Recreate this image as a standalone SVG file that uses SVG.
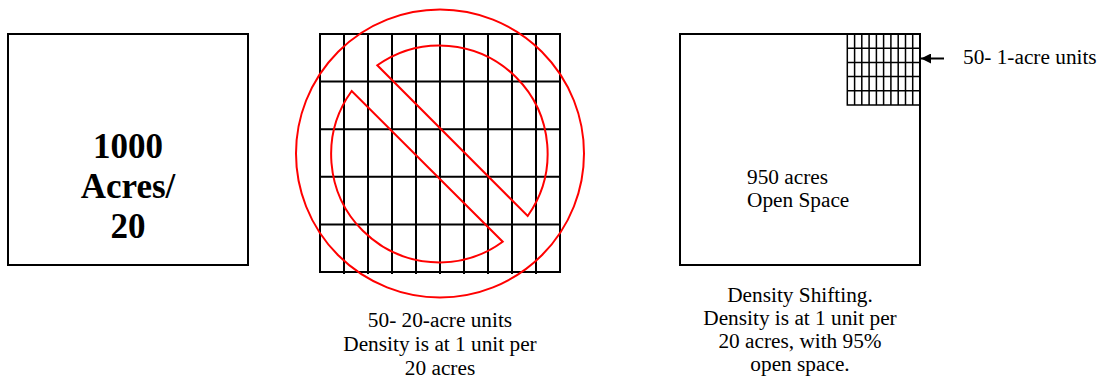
<svg xmlns="http://www.w3.org/2000/svg" width="1102" height="381" viewBox="0 0 1102 381">
<style>
.box{fill:#fff;stroke:#000;stroke-width:2}
.grid{stroke:#000;stroke-width:2;fill:none}
.sgrid{stroke:#000;stroke-width:1.5;fill:none}
.red{stroke:#f00;stroke-width:2;fill:none}
.t{font-family:"Liberation Serif","Times New Roman",serif;font-size:21.3px;fill:#000}
.b{font-family:"Liberation Serif","Times New Roman",serif;font-size:35px;font-weight:bold;fill:#000}
</style>
<defs>
<marker id="ah" markerWidth="10" markerHeight="10" refX="10" refY="5" orient="auto" markerUnits="userSpaceOnUse">
<path d="M0,0 L10,5 L0,10 Z" fill="#000"/>
</marker>
</defs>
<rect width="1102" height="381" fill="#fff"/>

<g id="node-1000-acres">
<rect class="box" x="8" y="34" width="240" height="231"/>
<text class="b" text-anchor="middle" x="128" y="158">1000</text>
<text class="b" text-anchor="middle" x="128" y="198">Acres/</text>
<text class="b" text-anchor="middle" x="128" y="238">20</text>
</g>

<g id="node-grid-20acre">
<rect class="grid" x="320" y="34" width="240" height="238"/>
<path class="grid" d="M344,34V274M368,34V274M392,34V274M416,34V274M440,34V274M464,34V274M488,34V274M512,34V274M536,34V274M320,81.6H560M320,129.2H560M320,176.8H560M320,224.4H560"/>
<circle class="red" cx="440" cy="153.5" r="144"/>
<path class="red" d="M377.3,65.3 A108,108 0 0 1 527.7,216 Z"/>
<path class="red" d="M351.7,91 A108,108 0 0 0 502.7,241.7 Z"/>
<text class="t" text-anchor="middle" x="440" y="327">50- 20-acre units</text>
<text class="t" text-anchor="middle" x="440" y="351">Density is at 1 unit per</text>
<text class="t" text-anchor="middle" x="440" y="375">20 acres</text>
</g>

<g id="node-density-shifting">
<rect class="box" x="680" y="34" width="240" height="231"/>
<path class="sgrid" d="M847.3,34V105H920M854.6,34V105M861.8,34V105M869.1,34V105M876.4,34V105M883.6,34V105M890.9,34V105M898.2,34V105M905.5,34V105M912.7,34V105M847.3,48.2H920M847.3,62.4H920M847.3,76.6H920M847.3,90.8H920"/>
<text class="t" x="747" y="184">950 acres</text>
<text class="t" x="747" y="207">Open Space</text>
<text class="t" text-anchor="middle" x="800" y="302">Density Shifting.</text>
<text class="t" text-anchor="middle" x="800" y="325">Density is at 1 unit per</text>
<text class="t" text-anchor="middle" x="800" y="348">20 acres, with 95%</text>
<text class="t" text-anchor="middle" x="800" y="371">open space.</text>
</g>

<g id="node-label-1acre">
<text class="t" x="963" y="64">50- 1-acre units</text>
</g>

<g id="connectors">
<line x1="944" y1="58.5" x2="921" y2="58.5" stroke="#000" stroke-width="2" marker-end="url(#ah)"/>
</g>
</svg>
